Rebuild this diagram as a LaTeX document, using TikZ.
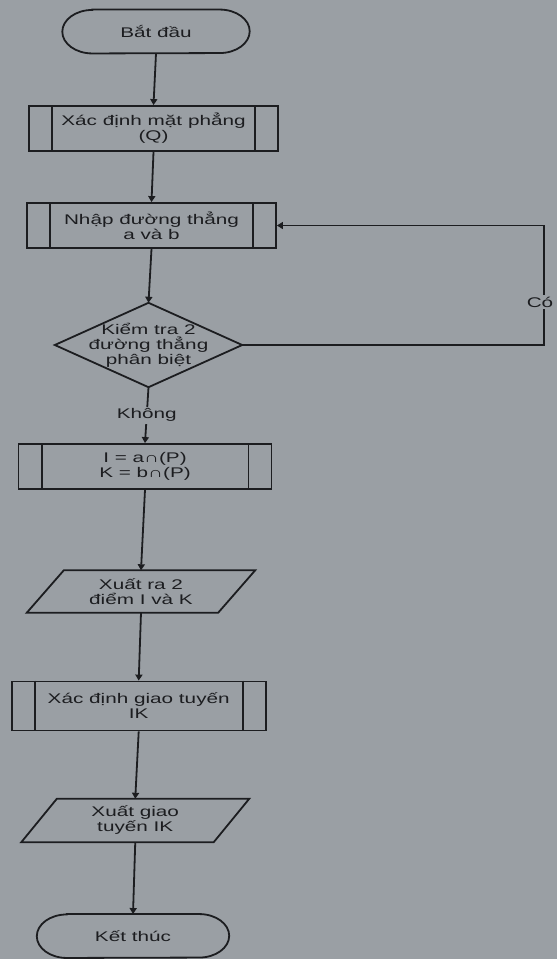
\documentclass[tikz,border=0pt]{standalone}
\usepackage{fontspec}
\setmainfont{Liberation Sans}[FakeStretch=1.48]
\usetikzlibrary{arrows.meta}
\definecolor{bg}{HTML}{9A9FA4}
\definecolor{ink}{HTML}{1C1D20}
\newcommand\termshape[1]{\draw[line] ([xshift=30pt]#1.north west) -- ([xshift=-30pt]#1.north east)
  arc[start angle=90,end angle=-90,x radius=30pt,y radius=21.75pt]
  -- ([xshift=30pt]#1.south west)
  arc[start angle=270,end angle=90,x radius=30pt,y radius=21.75pt] -- cycle;}
\newcommand\innerbars[1]{\draw[line] ([xshift=24pt]#1.north west) -- ([xshift=24pt]#1.south west)
  ([xshift=-24pt]#1.north east) -- ([xshift=-24pt]#1.south east);}
\newcommand\paral[2]{\draw[line] ([xshift=#2]#1.north west) -- ([xshift=#2]#1.north east)
  -- ([xshift=-#2]#1.south east) -- ([xshift=-#2]#1.south west) -- cycle;}
\begin{document}
\begin{tikzpicture}[x=1pt,y=-1pt,
  every node/.style={font=\fontsize{14}{15}\selectfont, text=ink, align=center, inner sep=0pt},
  line/.style={draw=ink, line width=1.8pt},
  pbox/.style={line, rectangle},
  ghost/.style={rectangle},
  arr/.style={line, -{Triangle[length=6pt,width=7pt]}},
  lbl/.style={fill=bg, inner sep=2pt}]
\fill[bg] (0,0) rectangle (557,959);
\useasboundingbox (0,0) rectangle (557,959);

\node[ghost, minimum width=187pt, minimum height=43.5pt] (start) at (156,31.5) {Bắt đầu};
\node[pbox, minimum width=249pt, minimum height=45pt] (b1) at (153.5,128.5) {Xác định mặt phẳng\\(Q)};
\node[pbox, minimum width=249pt, minimum height=45pt] (b2) at (151.5,225.5) {Nhập đường thẳng\\a và b};
\node[ghost, minimum width=187pt, minimum height=84pt] (d) at (148.5,345) {Kiểm tra 2\\đường thẳng\\phân biệt};
\node[pbox, minimum width=253pt, minimum height=45pt] (b3) at (145,466.5) {I = a∩(P)\\K = b∩(P)};
\node[ghost, minimum width=191pt, minimum height=42pt] (p1) at (141,591.5) {Xuất ra 2\\điểm I và K};
\node[pbox, minimum width=254pt, minimum height=49pt] (b4) at (138.7,706) {Xác định giao tuyến\\IK};
\node[ghost, minimum width=192pt, minimum height=43pt] (p2) at (135.25,820.5) {Xuất giao\\tuyến IK};
\node[ghost, minimum width=192pt, minimum height=43.5pt] (end) at (133,936) {Kết thúc};
\coordinate (lp) at (544,300);

\termshape{start}
\termshape{end}
\innerbars{b1}
\innerbars{b2}
\innerbars{b3}
\innerbars{b4}
\draw[line] (d.north) -- (d.east) -- (d.south) -- (d.west) -- cycle;
\paral{p1}{18.5pt}
\paral{p2}{17.75pt}

\draw[arr] (start.south) -- (b1.north);
\draw[arr] (b1.south) -- (b2.north);
\draw[arr] (b2.south) -- (d.north);
\draw[arr] (d.south) -- node[lbl] (kh) {Không} (b3.north);
\draw[arr] (b3.south) -- (p1.north);
\draw[arr] (p1.south) -- (b4.north);
\draw[arr] (b4.south) -- (p2.north);
\draw[arr] (p2.south) -- (end.north);
\draw[arr] (d.east) -- (d.east -| lp) -- (lp |- b2.east) -- (b2.east);
\node[lbl] (co) at (540,302) {Có};
\end{tikzpicture}
\end{document}
